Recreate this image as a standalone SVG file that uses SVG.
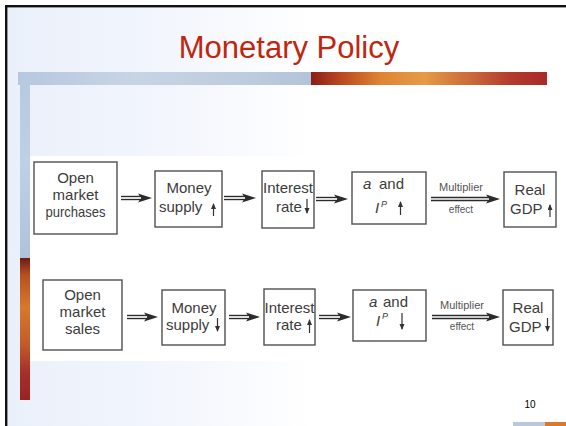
<svg xmlns="http://www.w3.org/2000/svg" width="566" height="426" viewBox="0 0 566 426">
<style>
.t{font-family:"Liberation Sans",Arial,sans-serif;font-size:15px;fill:#3c3c3c}
.c{text-anchor:middle}
.i{font-style:italic}
.sup{font-family:"Liberation Sans",Arial,sans-serif;font-size:9px;font-style:italic;fill:#3c3c3c}
.sm{font-family:"Liberation Sans",Arial,sans-serif;font-size:10px;fill:#555;text-anchor:middle}
.box{fill:#fff;stroke:#505050;stroke-width:1.4}
.dbl{stroke:#2b2b2b;stroke-width:4.4;fill:none;marker-end:url(#big)}
.dblw{stroke:#fff;stroke-width:1.7;fill:none}
.ar{stroke:#333;stroke-width:1.2;fill:none;marker-end:url(#sa)}
</style>
<defs>
<linearGradient id="bg" x1="0" x2="1" y1="0" y2="0">
<stop offset="0" stop-color="#eaf0fa"/><stop offset="0.3" stop-color="#f3f6fd"/><stop offset="0.55" stop-color="#ffffff"/>
</linearGradient>
<linearGradient id="hb" x1="18" x2="311" y1="0" y2="0" gradientUnits="userSpaceOnUse">
<stop offset="0" stop-color="#b6c8df"/><stop offset="0.4" stop-color="#c7d4e4"/><stop offset="0.8" stop-color="#bccbdd"/><stop offset="1" stop-color="#b3c4d9"/>
</linearGradient>
<linearGradient id="hr" x1="311" x2="547" y1="0" y2="0" gradientUnits="userSpaceOnUse">
<stop offset="0" stop-color="#8a1d16"/><stop offset="0.12" stop-color="#b9461f"/><stop offset="0.3" stop-color="#df8534"/><stop offset="0.48" stop-color="#e59b46"/><stop offset="0.68" stop-color="#c9683a"/><stop offset="0.85" stop-color="#b33a2c"/><stop offset="1" stop-color="#a82a29"/>
</linearGradient>
<linearGradient id="vb" x1="0" x2="0" y1="72" y2="258" gradientUnits="userSpaceOnUse">
<stop offset="0" stop-color="#b7c9df"/><stop offset="0.5" stop-color="#bdd0e6"/><stop offset="1" stop-color="#aec2da"/>
</linearGradient>
<linearGradient id="vr" x1="0" x2="0" y1="258" y2="400" gradientUnits="userSpaceOnUse">
<stop offset="0" stop-color="#6e1a14"/><stop offset="0.12" stop-color="#b8501f"/><stop offset="0.35" stop-color="#d9782d"/><stop offset="0.6" stop-color="#c45c2a"/><stop offset="0.8" stop-color="#a8302a"/><stop offset="1" stop-color="#9a2222"/>
</linearGradient>
<marker id="big" markerUnits="userSpaceOnUse" markerWidth="16" markerHeight="10" refX="3" refY="5" orient="auto">
<path d="M0,0.6 L14,5 L0,9.4 L3,5 Z" fill="#2b2b2b"/>
</marker>
<marker id="sa" markerUnits="userSpaceOnUse" markerWidth="6" markerHeight="6" refX="5" refY="2.5" orient="auto">
<path d="M0,0 L6,2.5 L0,5 Z" fill="#333"/>
</marker>
</defs>

<g id="slide">
<rect x="0" y="0" width="566" height="426" fill="#fff"/>
<rect x="6" y="6" width="560" height="420" fill="url(#bg)"/>
<rect x="30" y="156" width="536" height="205" fill="#fff"/>
<rect x="5" y="5" width="561" height="2.4" fill="#111"/>
<rect x="5" y="5" width="2.4" height="421" fill="#111"/>
<rect x="18" y="72" width="293" height="13" fill="url(#hb)"/>
<rect x="311" y="72" width="236" height="13" fill="url(#hr)"/>
<rect x="20" y="72" width="10" height="186" fill="url(#vb)"/>
<rect x="20" y="258" width="10" height="142" fill="url(#vr)"/>
<rect x="513" y="422" width="32" height="4" fill="#b9c8db"/>
<rect x="545" y="422" width="21" height="4" fill="#d77a30"/>
<text x="289" y="58" font-family="Liberation Sans, Arial, sans-serif" font-size="31" fill="#c0260e" text-anchor="middle">Monetary Policy</text>
<text x="530" y="408" font-family="Liberation Sans, Arial, sans-serif" font-size="10" fill="#000" text-anchor="middle">10</text>
</g>

<g id="n1a"><rect class="box" x="34" y="162" width="83" height="72"/>
<text class="t c" x="75.5" y="183">Open</text><text class="t c" x="75.5" y="200">market</text><text class="t c" x="75.5" y="217" textLength="60" lengthAdjust="spacingAndGlyphs">purchases</text></g>
<g id="n1b"><rect class="box" x="155" y="171" width="67" height="56"/>
<text class="t c" x="189" y="193">Money</text><text class="t" x="159" y="212">supply</text><path class="ar" d="M213.5,216 V204"/></g>
<g id="n1c"><rect class="box" x="262" y="171" width="52" height="57"/>
<text class="t c" x="288" y="193">Interest</text><text class="t" x="276" y="212">rate</text><path class="ar" d="M307,199 V213"/></g>
<g id="n1d"><rect class="box" x="352" y="172" width="74" height="52"/>
<text class="t i" x="363" y="189">a</text><text class="t" x="379" y="189">and</text>
<text class="t i" x="375" y="213">I</text><text class="sup" x="381" y="207">P</text><path class="ar" d="M400.5,215 V202"/></g>
<g id="n1e"><rect class="box" x="504" y="172" width="52" height="55"/>
<text class="t c" x="530" y="195">Real</text><text class="t" x="510" y="214">GDP</text><path class="ar" d="M550,217 V205"/></g>

<g id="n2a"><rect class="box" x="43" y="280" width="79" height="70"/>
<text class="t c" x="82.5" y="300">Open</text><text class="t c" x="82.5" y="317">market</text><text class="t c" x="82.5" y="334">sales</text></g>
<g id="n2b"><rect class="box" x="162" y="290" width="63" height="55"/>
<text class="t c" x="194" y="313">Money</text><text class="t" x="166" y="330">supply</text><path class="ar" d="M217.5,318 V331"/></g>
<g id="n2c"><rect class="box" x="264" y="289" width="51" height="56"/>
<text class="t c" x="289.5" y="313">Interest</text><text class="t" x="276" y="330">rate</text><path class="ar" d="M309.5,333 V320"/></g>
<g id="n2d"><rect class="box" x="353" y="290" width="73" height="51"/>
<text class="t i" x="369" y="307">a</text><text class="t" x="383" y="307">and</text>
<text class="t i" x="376" y="326">I</text><text class="sup" x="382" y="319">P</text><path class="ar" d="M402,313 V329"/></g>
<g id="n2e"><rect class="box" x="503" y="290" width="50" height="55"/>
<text class="t c" x="528" y="313">Real</text><text class="t" x="509" y="332">GDP</text><path class="ar" d="M547.5,318 V331"/></g>

<g id="connectors">
<path class="dbl" d="M121,198 H141"/><path class="dblw" d="M121,198 H141"/>
<path class="dbl" d="M224,198 H245"/><path class="dblw" d="M224,198 H245"/>
<path class="dbl" d="M316,199 H337"/><path class="dblw" d="M316,199 H337"/>
<path class="dbl" d="M431,199 H489"/><path class="dblw" d="M431,199 H489"/>
<text class="sm" x="461" y="191" textLength="44" lengthAdjust="spacingAndGlyphs">Multiplier</text>
<text class="sm" x="461" y="213">effect</text>
<path class="dbl" d="M127,317 H147"/><path class="dblw" d="M127,317 H147"/>
<path class="dbl" d="M229,317 H249"/><path class="dblw" d="M229,317 H249"/>
<path class="dbl" d="M319,317 H340"/><path class="dblw" d="M319,317 H340"/>
<path class="dbl" d="M432,317 H489"/><path class="dblw" d="M432,317 H489"/>
<text class="sm" x="462" y="309" textLength="44" lengthAdjust="spacingAndGlyphs">Multiplier</text>
<text class="sm" x="462" y="330">effect</text>
</g>
</svg>
